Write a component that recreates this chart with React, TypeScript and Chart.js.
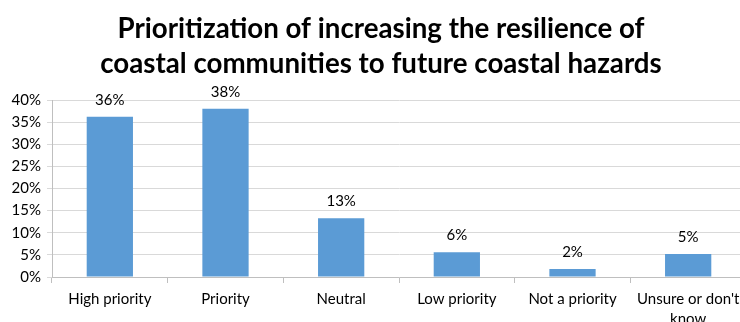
import React, { useEffect, useRef } from "react";
import { Chart, registerables } from "chart.js";

Chart.register(...registerables);

const categories: (string | string[])[] = [
  "High priority",
  "Priority",
  "Neutral",
  "Low priority",
  "Not a priority",
  ["Unsure or don't", "know"],
];
const values: number[] = [36.2, 38.0, 13.3, 5.6, 1.8, 5.2];
const yTicks: number[] = [0, 5, 10, 15, 20, 25, 30, 35, 40];
const titleLines: string[] = [
  "Prioritization of increasing the resilience of",
  "coastal communities to future coastal hazards",
];

const FONT = "Lato, 'Open Sans', sans-serif";
const TITLE_SIZE = 27.7;
const TITLE_LINE = 35;
const TITLE_TOP = 12;
const TITLE_CENTER_SHIFT = 8;

const titlePlugin = {
  id: "titleBlock",
  afterDraw(chart: any) {
    const ctx = chart.ctx;
    ctx.save();
    ctx.font = `bold ${TITLE_SIZE}px ${FONT}`;
    ctx.fillStyle = "#000";
    ctx.textAlign = "center";
    ctx.textBaseline = "middle";
    const cx = chart.width / 2 + TITLE_CENTER_SHIFT;
    titleLines.forEach((line, i) => {
      ctx.fillText(line, cx, TITLE_TOP + TITLE_LINE * i + TITLE_LINE / 2);
    });
    ctx.restore();
  },
};

const dataLabelPlugin = {
  id: "dataLabels",
  afterDatasetsDraw(chart: any) {
    const ctx = chart.ctx;
    const meta = chart.getDatasetMeta(0);
    ctx.save();
    ctx.font = `15px ${FONT}`;
    ctx.fillStyle = "#000";
    ctx.textAlign = "center";
    ctx.textBaseline = "alphabetic";
    meta.data.forEach((el: any, i: number) => {
      const v = chart.data.datasets[0].data[i];
      ctx.fillText(Math.round(v) + "%", el.x, el.y - 12);
    });
    ctx.restore();
  },
};

export default function App() {
  const ref = useRef<HTMLCanvasElement>(null);
  useEffect(() => {
    if (!ref.current) return;
    const chart = new Chart(ref.current, {
      type: "bar",
      data: {
        labels: categories,
        datasets: [
          {
            data: values,
            backgroundColor: "#5B9BD5",
            barPercentage: 0.4,
            categoryPercentage: 1,
          },
        ],
      },
      options: {
        animation: false,
        responsive: false,
        maintainAspectRatio: false,
        layout: { padding: { top: 100, right: 0, left: 0, bottom: 0 } },
        plugins: {
          legend: { display: false },
          tooltip: { enabled: false },
          title: { display: false },
        },
        scales: {
          x: {
            grid: {
              display: true,
              drawOnChartArea: false,
              drawTicks: true,
              tickLength: 6,
              color: "#BFBFBF",
              offset: true,
            },
            border: { color: "#BFBFBF" },
            ticks: {
              color: "#000",
              font: { family: FONT, size: 15, lineHeight: 1.35 },
              maxRotation: 0,
              autoSkip: false,
              padding: 6,
            },
            afterFit(scale: any) {
              scale.height = 45;
            },
          },
          y: {
            min: 0,
            max: 40,
            afterBuildTicks(scale: any) {
              scale.ticks = yTicks.map((v) => ({ value: v }));
            },
            grid: {
              color: "#D9D9D9",
              tickLength: 5,
              drawTicks: true,
            },
            border: { color: "#BFBFBF" },
            ticks: {
              color: "#000",
              font: { family: FONT, size: 15 },
              padding: 6,
              callback: (v: any) => v + "%",
            },
            afterFit(scale: any) {
              scale.width = 52;
            },
          },
        },
      },
      plugins: [dataLabelPlugin, titlePlugin],
    });
    return () => chart.destroy();
  }, []);
  return (
    <div
      style={{
        position: "fixed",
        left: 0,
        top: 0,
        width: 740,
        height: 322,
        overflow: "hidden",
        background: "#fff",
      }}
    >
      <canvas ref={ref} width={746} height={322} style={{ display: "block" }} />
    </div>
  );
}
